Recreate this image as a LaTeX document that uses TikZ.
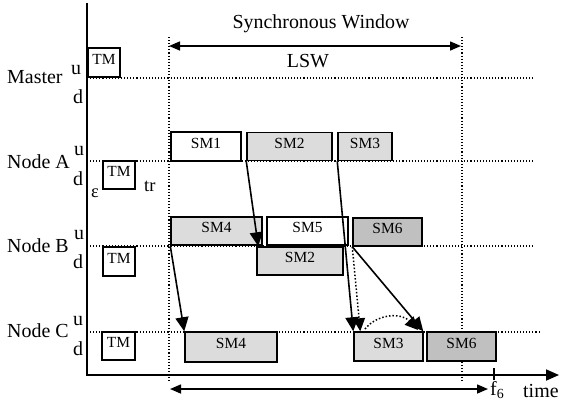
\documentclass[tikz,border=0pt]{standalone}
\usepackage{fontspec}
\setmainfont{Liberation Serif}
\usetikzlibrary{arrows.meta}
\definecolor{lg}{HTML}{DCDCDC}
\definecolor{dg}{HTML}{C0C0C0}
\begin{document}
\begin{tikzpicture}[x=1bp,y=-1bp,
  lbl/.style={font=\fontsize{20}{20}\selectfont, inner sep=0},
  sublbl/.style={font=\fontsize{18.5}{18.5}\selectfont, inner sep=0},
  box/.style={draw, line width=1.5bp, inner sep=0, font=\fontsize{15.5}{16}\selectfont, text height=11bp, text depth=8bp},
  dotline/.style={line width=1.1bp, dotted},
  conn/.style={line width=1.6bp, -{Triangle[length=14bp,width=13bp]}},
  dconn/.style={line width=1.5bp, dotted, -{Triangle[length=13bp,width=12bp]}},
  span/.style={line width=1.5bp, {Triangle[length=11bp,width=9bp]}-{Triangle[length=11bp,width=9bp]}}
]
\useasboundingbox (0,0) rectangle (561,409);

% dotted guide lines
\draw[dotline] (87,78) -- (533,78);
\draw[dotline] (87,161) -- (533,161);
\draw[dotline] (87,246) -- (533,246);
\draw[dotline] (87,332) -- (540,332);
\draw[dotline] (169,37) -- (169,382);
\draw[dotline] (462,37) -- (462,381);

% axes
\coordinate (axtop) at (87,3);
\coordinate (orig) at (87,375);
\coordinate (axend) at (559,375);
\draw[line width=1.8bp, -{Triangle[length=13bp,width=11bp]}] (axtop) -- (orig) -- (axend);
\coordinate (tk1) at (494,368);
\coordinate (tk2) at (494,380);
\draw[line width=1.6bp] (tk1) -- (tk2);

% spans
\coordinate (swl) at (169,46);
\coordinate (swr) at (461,46);
\draw[span] (swl) -- (swr);
\coordinate (bwl) at (170,389);
\coordinate (bwr) at (488,389);
\draw[span] (bwl) -- (bwr);

\node[lbl, anchor=base] (sw) at (321,28) {Synchronous Window};
\node[lbl, anchor=base] (lsw) at (308,67) {LSW};

% row labels
\node[lbl, anchor=base west] (lm) at (7,83) {Master};
\node[lbl, anchor=base west] (la) at (7,168) {Node A};
\node[lbl, anchor=base west] (lb) at (7,252) {Node B};
\node[lbl, anchor=base west] (lc) at (7,337) {Node C};
\node[lbl, anchor=base west] (um) at (71,74) {u};
\node[lbl, anchor=base west] (dm) at (73,103) {d};
\node[lbl, anchor=base west] (ua) at (74,155) {u};
\node[lbl, anchor=base west] (da) at (73,185) {d};
\node[lbl, anchor=base west] (ub) at (74,239) {u};
\node[lbl, anchor=base west] (db) at (73,268) {d};
\node[lbl, anchor=base west] (uc) at (73,325) {u};
\node[lbl, anchor=base west] (dc) at (73,355) {d};
\node[sublbl, anchor=base west] (eps) at (91,197) {ε};
\node[sublbl, anchor=base west] (tr) at (144,191) {tr};
\node[lbl, anchor=base west] (f6) at (490,395) {f\textsubscript{6}};
\node[lbl, anchor=base west] (time) at (523,397) {time};

% TM boxes
\node[box, fill=white, minimum width=32bp, minimum height=29bp] (tmm) at (104,62.5) {TM};
\node[box, fill=white, minimum width=32bp, minimum height=28bp] (tma) at (119,175) {TM};
\node[box, fill=white, minimum width=32bp, minimum height=29bp] (tmb) at (119,261.5) {TM};
\node[box, fill=white, minimum width=33bp, minimum height=28bp] (tmc) at (118.5,346) {TM};

% messages
\node[box, fill=white, minimum width=70bp, minimum height=29bp] (sm1) at (206,146.5) {SM1};
\node[box, fill=lg, minimum width=85bp, minimum height=28bp] (sm2a) at (289.5,146.5) {SM2};
\node[box, fill=lg, minimum width=54bp, minimum height=28bp] (sm3a) at (365,146.5) {SM3};
\node[box, fill=lg, minimum width=91bp, minimum height=28bp] (sm4b) at (216.5,231) {SM4};
\node[box, fill=white, minimum width=81bp, minimum height=28bp] (sm5b) at (307.5,231) {SM5};
\node[box, fill=lg, minimum width=86bp, minimum height=28bp] (sm2b) at (300,261) {SM2};
\node[box, fill=dg, minimum width=69bp, minimum height=28bp] (sm6b) at (387.5,232) {SM6};
\node[box, fill=lg, minimum width=92bp, minimum height=30bp] (sm4c) at (231,347) {SM4};
\node[box, fill=lg, minimum width=69bp, minimum height=29bp] (sm3c) at (388.5,346.5) {SM3};
\node[box, fill=dg, minimum width=69bp, minimum height=29bp] (sm6c) at (461.5,346.5) {SM6};

% connectors
\draw[conn] (sm2a.south west) -- ([xshift=2bp]sm2b.north west);
\draw[conn] (sm3a.south west) -- (sm3c.north west);
\draw[conn] (sm4b.south west) -- (sm4c.north west);
\draw[conn] (sm6b.south west) -- ([xshift=-3bp]sm6c.north west);
\draw[dconn] (sm6b.south west) -- ([xshift=7bp]sm3c.north west);
\coordinate (ca) at (365,329);
\coordinate (cb) at (418,330);
\draw[dconn] (ca) .. controls (378,313) and (402,313) .. (cb);
\end{tikzpicture}
\end{document}
